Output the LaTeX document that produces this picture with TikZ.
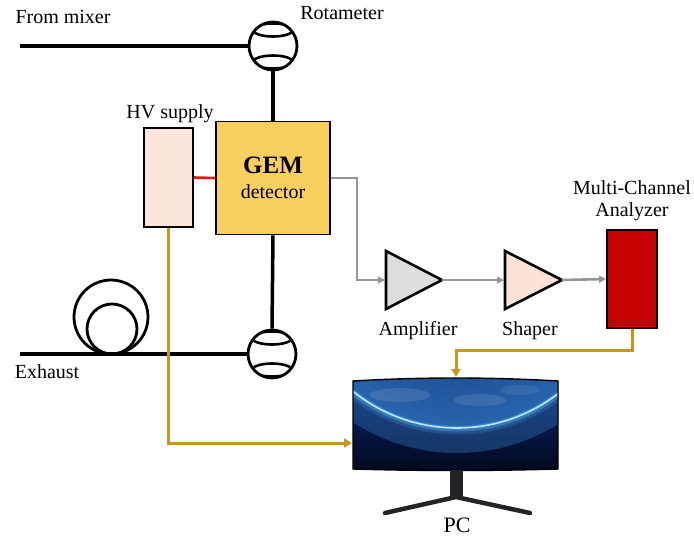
\documentclass[tikz,border=0pt]{standalone}
\usepackage{fontspec}
\setmainfont{Liberation Serif}
\usetikzlibrary{arrows.meta}

\definecolor{gemfill}{RGB}{249,207,96}
\definecolor{hvfill}{RGB}{251,229,220}
\definecolor{ampfill}{RGB}{221,221,221}
\definecolor{shpfill}{RGB}{251,227,215}
\definecolor{mcafill}{RGB}{196,0,0}
\definecolor{sigline}{RGB}{150,150,150}
\definecolor{goldline}{RGB}{201,150,24}
\definecolor{hvred}{RGB}{235,20,20}
\definecolor{scrnavy}{RGB}{10,40,120}
\definecolor{scrdark}{RGB}{3,8,30}
\definecolor{planetin}{RGB}{18,45,100}
\definecolor{planetout}{RGB}{40,100,175}
\definecolor{rimglow}{RGB}{90,190,255}
\definecolor{standgray}{RGB}{35,35,40}

\tikzset{
  lbl/.style={font=\fontsize{20}{22}\selectfont, inner sep=0pt},
  pipe/.style={line width=3.5pt, black},
  rota/.style={circle, draw=black, line width=2.8pt, minimum size=48pt, inner sep=0pt},
  sig/.style={line width=2.6pt, sigline, -{Triangle[length=7pt,width=7pt]}},
  goldarrow/.style={line width=3pt, goldline, -{Triangle[length=8pt,width=9pt]}},
  boxframe/.style={draw=black, line width=1.8pt, inner sep=0pt},
  tri/.style={draw=black, line width=2.6pt, line join=miter}
}

% rotameter glyph: circle with two inner float arcs
\newcommand{\rotaarcs}[1]{%
  \begin{scope}
    \clip (#1) circle (23pt);
    \draw[line width=2.6pt] ([yshift=-16pt]#1) ellipse (20pt and 6.5pt);
    \draw[line width=2.6pt] ([yshift=16pt]#1) ellipse (20pt and 6.5pt);
  \end{scope}}

\begin{document}
\begin{tikzpicture}[x=1pt,y=-1pt]
\useasboundingbox (0,0) rectangle (694,539);

% ---- gas line ----
\node[lbl] (tmixer) at (63,17) {From mixer};
\node[lbl] (trota) at (342,13) {Rotameter};
\node[rota] (rotTop) at (273,46) {};
\rotaarcs{rotTop}
\coordinate (mixer) at (20,46);
\draw[pipe] (mixer) -- (rotTop.west);

\node[rota] (rotBot) at (272,354) {};
\rotaarcs{rotBot}
\coordinate (exh) at (20,354);
\node[lbl] (texh) at (47,372) {Exhaust};

% coiled exhaust tubing
\draw[line width=2.8pt] (111,317) circle (37pt);
\draw[line width=2.8pt] (112,329) circle (25pt);
\draw[pipe] (exh) -- (rotBot.west);

% ---- detector and HV ----
\node[boxframe, fill=gemfill, minimum width=114pt, minimum height=113pt] (gem) at (273,178) {};
\node[font=\bfseries\fontsize{25}{27}\selectfont, inner sep=0pt] (tgem) at (273,165) {GEM};
\node[font=\fontsize{20}{22}\selectfont, inner sep=0pt] (tdet) at (273,192) {detector};
\draw[pipe] (rotTop.south) -- (gem.north);
\draw[pipe] (gem.south) -- (rotBot.north);

\node[boxframe, fill=hvfill, minimum width=49pt, minimum height=99pt] (hv) at (168.5,177.5) {};
\node[lbl] (thv) at (170,114) {HV supply};
\draw[line width=2.6pt, hvred] (hv.east) -- (gem.west);

% ---- signal chain ----
\coordinate (ampIn) at (386,280);
\coordinate (ampOut) at (442,280);
\coordinate (shpIn) at (505,280);
\coordinate (shpOut) at (562,280);
\filldraw[tri, fill=ampfill] (386,251) -- (ampOut) -- (386,309) -- cycle;
\filldraw[tri, fill=shpfill] (505,251) -- (shpOut) -- (505,309) -- cycle;
\node[lbl] (tamp) at (418,331) {Amplifier};
\node[lbl] (tshp) at (530,331) {Shaper};

\node[boxframe, fill=mcafill, minimum width=50pt, minimum height=98pt] (mca) at (632,279) {};
\node[lbl, align=center] (tmca) at (632,201) {Multi-Channel\\Analyzer};

\draw[sig] (gem.east) -- ++(26,0) |- ([xshift=-1pt]ampIn);
\draw[sig] (ampOut) -- ([xshift=-1pt]shpIn);
\draw[sig] (shpOut) -- (mca.west);

% ---- PC monitor ----
\coordinate (pcTop) at (456,377);
\coordinate (pcLeft) at (352,443);
\begin{scope}
  \clip (353,381) .. controls (420,377) and (490,377) .. (558,381)
    -- (558,469) .. controls (490,471) and (420,471) .. (353,469) -- cycle;
  \shade[top color=scrnavy, bottom color=scrdark] (350,375) rectangle (560,472);
  \draw[rimglow!60!scrnavy, line width=26pt, opacity=0.35] (457,262) circle (178pt);
  \shade[inner color=planetin, outer color=planetout] (457,262) circle (166pt);
  \draw[rimglow, line width=9pt, opacity=0.18] (457,262) circle (168pt);
  \draw[rimglow, line width=5pt, opacity=0.35] (457,262) circle (167pt);
  \draw[white!60!rimglow, line width=1.6pt] (457,262) circle (166pt);
  \fill[white, opacity=0.10] (400,395) ellipse (30pt and 7pt);
  \fill[white, opacity=0.10] (480,400) ellipse (26pt and 6pt);
  \fill[white, opacity=0.08] (520,390) ellipse (20pt and 5pt);
\end{scope}
\draw[black, line width=1.4pt] (353,381) .. controls (420,377) and (490,377) .. (558,381)
  -- (558,469) .. controls (490,471) and (420,471) .. (353,469) -- cycle;
\fill[standgray] (450,470) rectangle (463,499);
\draw[standgray, line width=4.5pt, line cap=round] (385,513) -- (456,497) -- (530,513);
\node[font=\fontsize{22}{24}\selectfont, inner sep=0pt] (tpc) at (457,525) {PC};

% ---- data lines ----
\draw[goldarrow] (mca.south) -- ++(0,22) -| (pcTop);
\draw[goldarrow] (hv.south) |- (pcLeft);

\end{tikzpicture}
\end{document}
